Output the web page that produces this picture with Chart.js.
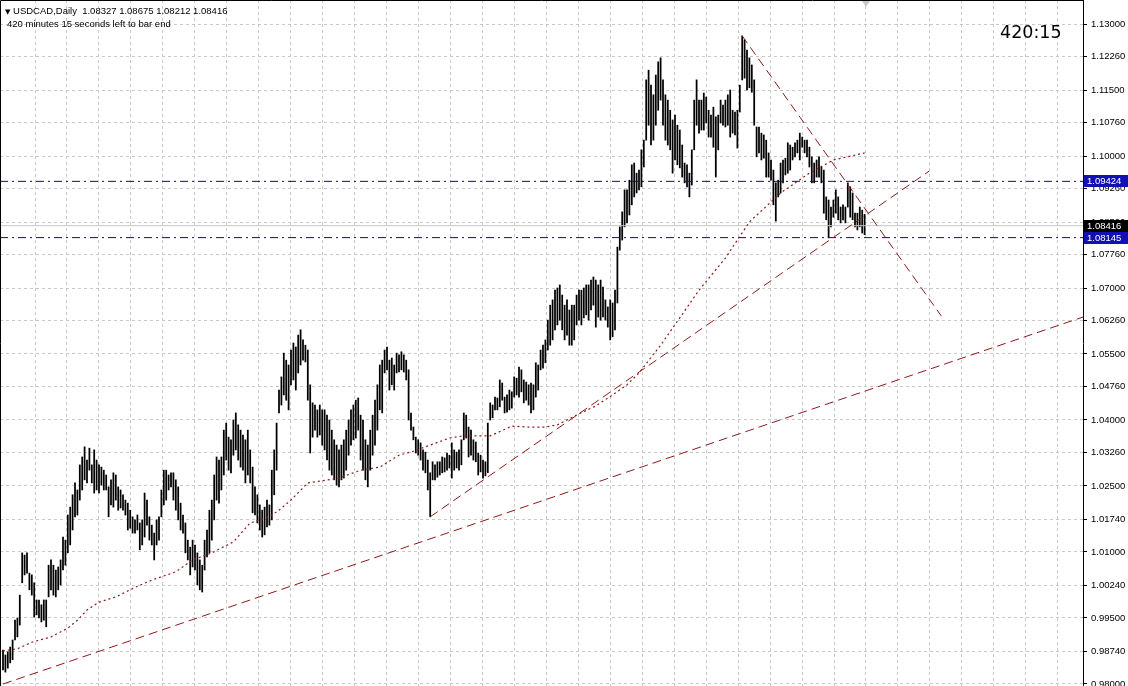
<!DOCTYPE html>
<html lang="en">
<head>
<meta charset="UTF-8">
<title>USDCAD, Daily</title>
<script src="https://cdn.jsdelivr.net/npm/chart.js@4.4.1/dist/chart.umd.min.js"></script>
<style>
    body { margin: 0; background: #fff; overflow: hidden; }
    .wrap { position: relative; width: 1128px; height: 686px; }
    canvas { display: block; }
    .info {
        position: absolute;
        font-family: "Liberation Sans", Arial, sans-serif;
        font-size: 9.5px;
        line-height: 1;
        color: #000;
        white-space: pre;
    }
    #line1 { left: 5px; top: 6px; }
    #line1 .tri { font-size: 7px; font-family: "DejaVu Sans", sans-serif; }
    #line2 { left: 7px; top: 19px; }
    #timer {
        position: absolute;
        left: 1000px;
        top: 24px;
        font-family: "DejaVu Sans", sans-serif;
        font-size: 17.5px;
        line-height: 1;
        color: #000;
    }
</style>
</head>
<body>
<div class="wrap">
    <canvas id="chart" width="1128" height="686"></canvas>
    <div class="info" id="line1"></div>
    <div class="info" id="line2">420 minutes 15 seconds left to bar end</div>
    <div id="timer">420:15</div>
</div>

<script>
// daily bars, oldest first (high / low)
var highs = [
    0.9877, 0.9866, 0.9873, 0.9884, 0.9900, 0.9945, 0.9950, 1.0002, 1.0098, 1.0093,
    1.0098, 1.0052, 1.0048, 1.0030, 0.9991, 0.9991, 0.9980, 0.9991, 0.9991, 1.0070,
    1.0082, 1.0070, 1.0059, 1.0066, 1.0082, 1.0134, 1.0127, 1.0184, 1.0202, 1.0230,
    1.0257, 1.0241, 1.0298, 1.0316, 1.0339, 1.0309, 1.0336, 1.0298, 1.0332, 1.0309,
    1.0298, 1.0293, 1.0286, 1.0275, 1.0248, 1.0264, 1.0280, 1.0275, 1.0248, 1.0241,
    1.0230, 1.0218, 1.0211, 1.0195, 1.0180, 1.0173, 1.0184, 1.0166, 1.0173, 1.0234,
    1.0218, 1.0180, 1.0161, 1.0143, 1.0173, 1.0180, 1.0241, 1.0286, 1.0286, 1.0275,
    1.0280, 1.0280, 1.0264, 1.0248, 1.0211, 1.0184, 1.0166, 1.0127, 1.0111, 1.0127,
    1.0116, 1.0098, 1.0082, 1.0070, 1.0127, 1.0150, 1.0195, 1.0218, 1.0275, 1.0316,
    1.0309, 1.0316, 1.0377, 1.0393, 1.0361, 1.0355, 1.0400, 1.0416, 1.0389, 1.0377,
    1.0366, 1.0355, 1.0377, 1.0332, 1.0293, 1.0248, 1.0230, 1.0207, 1.0195, 1.0202,
    1.0218, 1.0207, 1.0286, 1.0332, 1.0393, 1.0468, 1.0498, 1.0552, 1.0536, 1.0525,
    1.0559, 1.0575, 1.0566, 1.0593, 1.0605, 1.0582, 1.0570, 1.0559, 1.0480, 1.0439,
    1.0434, 1.0423, 1.0434, 1.0423, 1.0423, 1.0411, 1.0400, 1.0377, 1.0355, 1.0343,
    1.0332, 1.0343, 1.0355, 1.0377, 1.0400, 1.0423, 1.0434, 1.0445, 1.0450, 1.0411,
    1.0400, 1.0355, 1.0343, 1.0377, 1.0411, 1.0445, 1.0480, 1.0525, 1.0536, 1.0559,
    1.0566, 1.0536, 1.0541, 1.0525, 1.0552, 1.0548, 1.0555, 1.0548, 1.0536, 1.0514,
    1.0416, 1.0384, 1.0361, 1.0355, 1.0348, 1.0332, 1.0327, 1.0309, 1.0280, 1.0305,
    1.0298, 1.0305, 1.0305, 1.0316, 1.0314, 1.0325, 1.0320, 1.0348, 1.0332, 1.0327,
    1.0332, 1.0355, 1.0416, 1.0411, 1.0384, 1.0377, 1.0355, 1.0350, 1.0325, 1.0320,
    1.0309, 1.0305, 1.0393, 1.0439, 1.0434, 1.0452, 1.0450, 1.0491, 1.0484, 1.0452,
    1.0457, 1.0468, 1.0464, 1.0498, 1.0495, 1.0520, 1.0514, 1.0491, 1.0486, 1.0480,
    1.0484, 1.0480, 1.0530, 1.0525, 1.0559, 1.0570, 1.0582, 1.0627, 1.0661, 1.0673,
    1.0695, 1.0700, 1.0707, 1.0684, 1.0661, 1.0673, 1.0650, 1.0661, 1.0661, 1.0684,
    1.0695, 1.0695, 1.0700, 1.0707, 1.0707, 1.0718, 1.0725, 1.0718, 1.0707, 1.0718,
    1.0702, 1.0673, 1.0657, 1.0673, 1.0666, 1.0695, 1.0793, 1.0839, 1.0873, 1.0923,
    1.0923, 1.0945, 1.0980, 1.0984, 1.0961, 1.0968, 1.1014, 1.1036, 1.1173, 1.1195,
    1.1161, 1.1139, 1.1184, 1.1214, 1.1223, 1.1173, 1.1139, 1.1127, 1.1104, 1.1082,
    1.1093, 1.1070, 1.1059, 1.1025, 1.0984, 1.0980, 1.0961, 1.1014, 1.1127, 1.1173,
    1.1127, 1.1127, 1.1143, 1.1134, 1.1104, 1.1093, 1.1111, 1.1089, 1.1093, 1.1127,
    1.1116, 1.1127, 1.1139, 1.1150, 1.1104, 1.1100, 1.1104, 1.1161, 1.1273, 1.1264,
    1.1241, 1.1223, 1.1207, 1.1173, 1.1066, 1.1066, 1.1052, 1.1048, 1.1036, 1.1007,
    1.0991, 1.0968, 1.0939, 1.0945, 1.0984, 1.0991, 1.0995, 1.1030, 1.1025, 1.1020,
    1.1030, 1.1036, 1.1052, 1.1043, 1.1036, 1.1036, 1.1020, 1.0998, 1.0984, 1.0991,
    1.0998, 1.0975, 1.0968, 1.0907, 1.0900, 1.0884, 1.0900, 1.0923, 1.0907, 1.0884,
    1.0889, 1.0884, 1.0939, 1.0930, 1.0916, 1.0870, 1.0870, 1.0884, 1.0877, 1.08675
];
var lows = [
    0.9832, 0.9827, 0.9836, 0.9848, 0.9855, 0.9900, 0.9907, 0.9934, 1.0030, 1.0048,
    1.0052, 1.0014, 1.0002, 0.9952, 0.9957, 0.9950, 0.9941, 0.9945, 0.9930, 0.9998,
    1.0014, 1.0002, 0.9998, 1.0014, 1.0025, 1.0059, 1.0070, 1.0098, 1.0116, 1.0150,
    1.0180, 1.0184, 1.0218, 1.0241, 1.0264, 1.0257, 1.0286, 1.0257, 1.0234, 1.0241,
    1.0234, 1.0252, 1.0241, 1.0241, 1.0180, 1.0207, 1.0202, 1.0218, 1.0195, 1.0200,
    1.0195, 1.0184, 1.0150, 1.0154, 1.0143, 1.0143, 1.0150, 1.0105, 1.0116, 1.0134,
    1.0161, 1.0127, 1.0116, 1.0082, 1.0116, 1.0127, 1.0180, 1.0207, 1.0218, 1.0241,
    1.0248, 1.0218, 1.0195, 1.0173, 1.0150, 1.0143, 1.0098, 1.0082, 1.0048, 1.0066,
    1.0059, 1.0025, 1.0014, 1.0009, 1.0059, 1.0089, 1.0098, 1.0127, 1.0173, 1.0218,
    1.0211, 1.0241, 1.0275, 1.0309, 1.0286, 1.0280, 1.0320, 1.0332, 1.0309, 1.0293,
    1.0286, 1.0257, 1.0275, 1.0257, 1.0189, 1.0184, 1.0166, 1.0150, 1.0134, 1.0139,
    1.0157, 1.0161, 1.0173, 1.0230, 1.0286, 1.0416, 1.0434, 1.0457, 1.0445, 1.0423,
    1.0480, 1.0491, 1.0468, 1.0507, 1.0525, 1.0536, 1.0532, 1.0445, 1.0325, 1.0361,
    1.0377, 1.0361, 1.0366, 1.0343, 1.0332, 1.0309, 1.0286, 1.0275, 1.0264, 1.0252,
    1.0248, 1.0264, 1.0268, 1.0286, 1.0320, 1.0343, 1.0355, 1.0359, 1.0377, 1.0309,
    1.0286, 1.0264, 1.0248, 1.0286, 1.0320, 1.0343, 1.0377, 1.0423, 1.0416, 1.0507,
    1.0514, 1.0468, 1.0480, 1.0468, 1.0507, 1.0509, 1.0514, 1.0509, 1.0491, 1.0400,
    1.0377, 1.0355, 1.0325, 1.0320, 1.0309, 1.0286, 1.0280, 1.0241, 1.0180, 1.0264,
    1.0264, 1.0270, 1.0275, 1.0280, 1.0282, 1.0286, 1.0291, 1.0268, 1.0286, 1.0291,
    1.0286, 1.0298, 1.0355, 1.0359, 1.0316, 1.0320, 1.0309, 1.0305, 1.0275, 1.0282,
    1.0268, 1.0273, 1.0280, 1.0400, 1.0405, 1.0423, 1.0423, 1.0430, 1.0445, 1.0416,
    1.0418, 1.0423, 1.0427, 1.0452, 1.0457, 1.0452, 1.0464, 1.0439, 1.0445, 1.0434,
    1.0416, 1.0423, 1.0452, 1.0468, 1.0514, 1.0518, 1.0530, 1.0559, 1.0570, 1.0582,
    1.0605, 1.0616, 1.0627, 1.0605, 1.0582, 1.0593, 1.0570, 1.0570, 1.0582, 1.0616,
    1.0627, 1.0616, 1.0632, 1.0639, 1.0627, 1.0650, 1.0661, 1.0611, 1.0634, 1.0627,
    1.0634, 1.0627, 1.0611, 1.0582, 1.0589, 1.0605, 1.0666, 1.0786, 1.0809, 1.0839,
    1.0848, 1.0866, 1.0889, 1.0907, 1.0916, 1.0923, 1.0930, 1.0975, 1.1036, 1.1070,
    1.1025, 1.1036, 1.1070, 1.1104, 1.1127, 1.1070, 1.1036, 1.1025, 1.1014, 1.0961,
    1.0991, 1.0980, 1.0973, 1.0952, 1.0939, 1.0930, 1.0907, 1.0934, 1.1014, 1.1070,
    1.1052, 1.1059, 1.1059, 1.1075, 1.1043, 1.1043, 1.1020, 1.0952, 1.1014, 1.1075,
    1.1070, 1.1066, 1.1070, 1.1043, 1.1052, 1.1048, 1.1018, 1.1100, 1.1173, 1.1177,
    1.1150, 1.1155, 1.1145, 1.1070, 1.0998, 1.1007, 1.0991, 1.0995, 1.0952, 1.0952,
    1.0945, 1.0889, 1.0852, 1.0907, 1.0916, 1.0939, 1.0957, 1.0961, 1.0968, 1.0991,
    1.0998, 1.1007, 1.0991, 1.1020, 1.1007, 1.0998, 1.0975, 1.0939, 1.0939, 1.0952,
    1.0952, 1.0939, 1.0870, 1.0855, 1.0814, 1.0839, 1.0861, 1.0870, 1.0855, 1.0848,
    1.0855, 1.0848, 1.0884, 1.0861, 1.0855, 1.0839, 1.0832, 1.0839, 1.0825, 1.08212
];

// current bar: open, high, low, close
var lastBar = [1.08327, 1.08675, 1.08212, 1.08416];

// moving average, read at some bars
var maBar = [0, 6, 12, 20, 27, 31, 35, 40, 47, 56, 62, 72, 79, 87, 96, 103, 111, 115, 120, 127,
    132, 140, 149, 157, 165, 171, 178, 186, 192, 203, 206, 212, 219, 226, 231, 235, 240, 247, 254, 260,
    265, 274, 282, 290, 301, 311, 324, 336, 346, 359];
var maVal = [0.9875, 0.9880, 0.9895, 0.9907, 0.9927, 0.9945, 0.9968, 0.9986, 0.9998, 1.0022,
    1.0036, 1.0055, 1.0082, 1.0098, 1.0123, 1.0166, 1.0180, 1.0195, 1.0218, 1.0257,
    1.0261, 1.0268, 1.0286, 1.0293, 1.0320, 1.0329, 1.0343, 1.0359, 1.0364, 1.0364,
    1.0371, 1.0386, 1.0384, 1.0384, 1.0389, 1.0400, 1.0414, 1.0432, 1.0457, 1.0480,
    1.0507, 1.0570, 1.0632, 1.0695, 1.0768, 1.0850, 1.0916, 1.0961, 1.0991, 1.1007];

// trend lines: [bar1, price1, bar2, price2]
var trendLong = [0, 0.9800, 450, 1.0634];
var trendUp = [178, 1.0180, 386, 1.0966];
var trendDown = [308, 1.1273, 391, 1.0636];

// horizontal lines and bid
var levels = [1.09424, 1.08145];
var bid = 1.08416;

// price scale labels
var yTicks = [0.98, 0.9874, 0.995, 1.0024, 1.01, 1.0174, 1.025, 1.0326, 1.04, 1.0476, 1.055,
    1.0626, 1.07, 1.0776, 1.085, 1.0926, 1.10, 1.1076, 1.115, 1.1226, 1.13];

var BAR_PX = 2.4;
var X_MIN = -3 / BAR_PX;
var X_MAX = X_MIN + 1083 / BAR_PX;
var Y_MIN = 0.979545;
var Y_MAX = 1.135455;

document.getElementById('line1').innerHTML =
    '<span class="tri">\u25BC</span> USDCAD,Daily  ' + lastBar.map(function (v) { return v.toFixed(5); }).join(' ');

var bars = highs.map(function (h, i) { return { x: i, y: [lows[i], h] }; });
var ma = maBar.map(function (b, i) { return { x: b, y: maVal[i] }; });
function seg(t) { return [{ x: t[0], y: t[1] }, { x: t[2], y: t[3] }]; }
function hline(v) { return [{ x: X_MIN, y: v }, { x: X_MAX, y: v }]; }

var lineBase = { type: 'line', pointRadius: 0, borderWidth: 1, fill: false, tension: 0, order: 1 };

var datasets = [
    { type: 'bar', data: bars, backgroundColor: '#000', barThickness: 1.1, grouped: false, order: 5 },
    Object.assign({}, lineBase, { data: hline(bid), borderColor: '#c4c4c4', order: 4 }),
    Object.assign({}, lineBase, { data: ma, borderColor: '#8b1a1a', borderWidth: 1.2, borderDash: [2, 3] }),
    Object.assign({}, lineBase, { data: seg(trendLong), borderColor: '#8b1a1a', borderDash: [9, 5] }),
    Object.assign({}, lineBase, { data: seg(trendUp), borderColor: '#8b1a1a', borderDash: [9, 5] }),
    Object.assign({}, lineBase, { data: seg(trendDown), borderColor: '#8b1a1a', borderDash: [9, 5] })
];
levels.forEach(function (v) {
    datasets.push(Object.assign({}, lineBase, { data: hline(v), borderColor: '#14144a', borderDash: [8, 4, 2, 4] }));
});

// frame, price tags, shift marker
var extras = {
    id: 'extras',
    afterDraw: function (chart) {
        var ctx = chart.ctx, a = chart.chartArea, ys = chart.scales.y, xs = chart.scales.x;
        ctx.save();
        ctx.strokeStyle = '#000';
        ctx.lineWidth = 1;
        ctx.beginPath();
        ctx.moveTo(a.left + 0.5, a.bottom);
        ctx.lineTo(a.left + 0.5, a.top + 0.5);
        ctx.lineTo(a.right, a.top + 0.5);
        ctx.stroke();

        var tags = [[levels[0], '#1010b4'], [bid, '#000'], [levels[1], '#1010b4']];
        ctx.font = '9.5px "Liberation Sans", Arial, sans-serif';
        ctx.textBaseline = 'middle';
        ctx.textAlign = 'left';
        tags.forEach(function (t) {
            var py = Math.round(ys.getPixelForValue(t[0]));
            ctx.fillStyle = t[1];
            ctx.fillRect(a.right + 1, py - 6, chart.width - a.right - 1, 12);
            ctx.fillStyle = '#fff';
            ctx.fillText(t[0].toFixed(5), a.right + 4, py + 0.5);
        });

        var mx = Math.round(xs.getPixelForValue(highs.length - 1)) + 1;
        ctx.fillStyle = '#c8c8c8';
        ctx.beginPath();
        ctx.moveTo(mx - 4, 1);
        ctx.lineTo(mx + 4, 1);
        ctx.lineTo(mx, 7);
        ctx.closePath();
        ctx.fill();
        ctx.restore();
    }
};

new Chart(document.getElementById('chart'), {
    data: { datasets: datasets },
    options: {
        responsive: false,
        animation: false,
        events: [],
        layout: { padding: 0 },
        plugins: { legend: { display: false }, tooltip: { enabled: false } },
        scales: {
            x: {
                type: 'linear',
                position: 'bottom',
                min: X_MIN,
                max: X_MAX,
                offset: false,
                ticks: { display: false },
                grid: { color: '#c8c8c8', drawTicks: false, offset: false },
                border: { display: false, dash: [3, 3] },
                afterBuildTicks: function (s) {
                    var t = [];
                    for (var px = 35; px < 1083; px += 31.96) t.push({ value: X_MIN + px / BAR_PX });
                    s.ticks = t;
                },
                afterFit: function (s) { s.height = 0; s.paddingLeft = 0; s.paddingRight = 0; }
            },
            y: {
                type: 'linear',
                position: 'right',
                min: Y_MIN,
                max: Y_MAX,
                ticks: {
                    autoSkip: false,
                    color: '#000',
                    padding: 4,
                    font: { family: '"Liberation Sans", Arial, sans-serif', size: 9.5 },
                    callback: function (v) { return Number(v).toFixed(5); }
                },
                grid: { color: '#c8c8c8', tickLength: 4, tickColor: '#000', tickBorderDash: [] },
                border: { display: true, color: '#000', width: 1, dash: [3, 3] },
                afterBuildTicks: function (s) {
                    s.ticks = yTicks.map(function (v) { return { value: v }; });
                },
                afterFit: function (s) { s.width = 45; s.paddingTop = 0; s.paddingBottom = 0; }
            }
        }
    },
    plugins: [extras]
});
</script>
</body>
</html>
